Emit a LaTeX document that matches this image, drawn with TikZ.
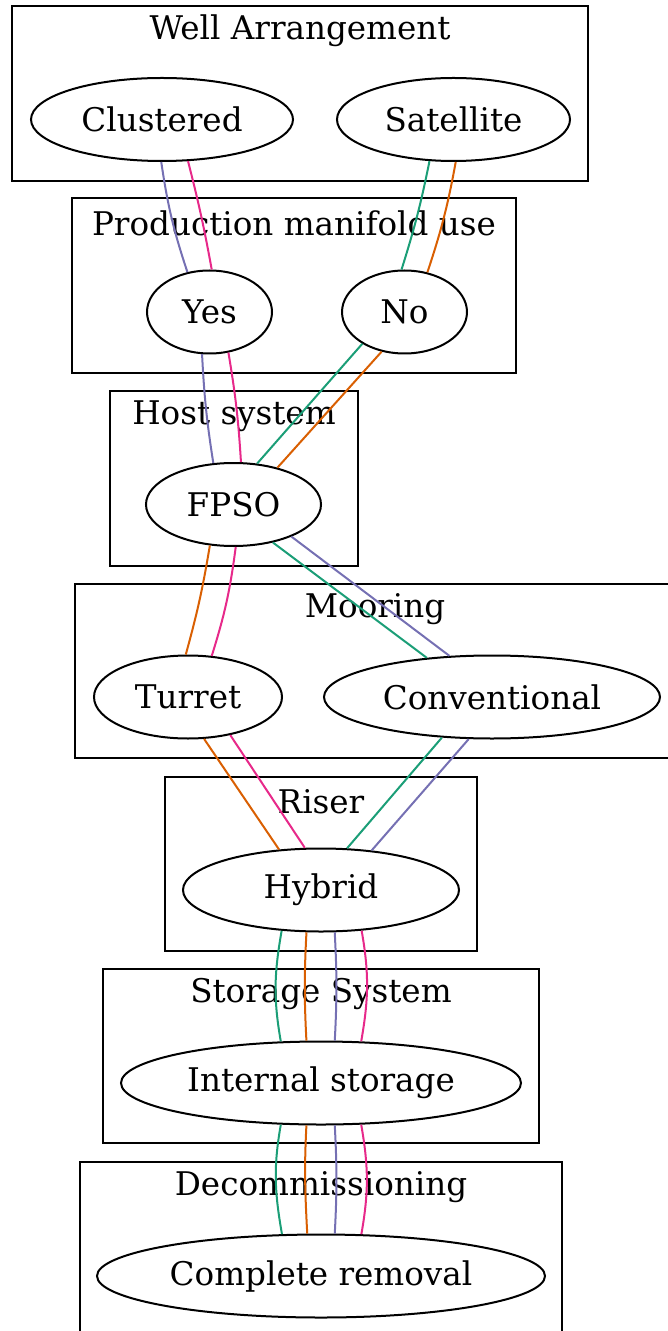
\documentclass[tikz,border=0pt]{standalone}
\usepackage{fontspec}
\setmainfont{DejaVu Serif}
\usetikzlibrary{shapes.geometric}
\definecolor{dkgreen}{HTML}{1B9E77}
\definecolor{dkorange}{HTML}{D95F02}
\definecolor{dkpurple}{HTML}{7570B3}
\definecolor{dkpink}{HTML}{E7298A}
\tikzset{
  opt/.style={ellipse, draw, fill=white, inner sep=0pt, minimum height=41.5pt, line width=1pt},
  clus/.style={draw, line width=1pt},
  ttl/.style={inner sep=0pt},
  gr/.style={dkgreen, line width=1pt},
  og/.style={dkorange, line width=1pt},
  pu/.style={dkpurple, line width=1pt},
  pk/.style={dkpink, line width=1pt}
}
\begin{document}
\begin{tikzpicture}[x=0.5pt, y=-0.5pt, font=\fontsize{16.3}{19}\selectfont]
\useasboundingbox (0,0) rectangle (668,1331);
\clip (0,0) rectangle (668,1331);
% clusters
\draw[clus] (12,6) rectangle (588,181);
\draw[clus] (72,198) rectangle (516,373);
\draw[clus] (110,391) rectangle (358,566);
\draw[clus] (75,584) rectangle (676,758);
\draw[clus] (165,777) rectangle (477,951);
\draw[clus] (103,969) rectangle (539,1143);
\draw[clus] (80,1162) rectangle (562,1345);
\node[ttl] (twell) at (300,31) {Well Arrangement};
\node[ttl] (tmani) at (294,223) {Production manifold use};
\node[ttl] (thost) at (234,416) {Host system};
\node[ttl] (tmoor) at (375,609) {Mooring};
\node[ttl] (trise) at (321,802) {Riser};
\node[ttl] (tstor) at (321,994) {Storage System};
\node[ttl] (tdeco) at (321,1187) {Decommissioning};
% options
\node[opt, minimum width=131pt] (clustered) at (162,119.5) {Clustered};
\node[opt, minimum width=116.5pt] (satellite) at (453.5,119.5) {Satellite};
\node[opt, minimum width=62.5pt] (yes) at (209.5,312) {Yes};
\node[opt, minimum width=62.5pt] (no) at (404.5,312) {No};
\node[opt, minimum width=87.5pt] (fpso) at (233.5,504.5) {FPSO};
\node[opt, minimum width=94pt] (turret) at (188,697) {Turret};
\node[opt, minimum width=168pt] (conv) at (492,697) {Conventional};
\node[opt, minimum width=138pt] (hybrid) at (321,890) {Hybrid};
\node[opt, minimum width=200pt] (internal) at (321,1083) {Internal storage};
\node[opt, minimum width=224pt] (removal) at (321,1276) {Complete removal};
% paths
\draw[pu] (clustered.-91) to[bend right=5] (yes.119);
\draw[pk] (clustered.-58) to[bend left=2] (yes.87);
\draw[gr] (satellite.-120) to[bend left=3] (no.94);
\draw[og] (satellite.-87) to[bend left=4] (no.60);
\draw[pu] (yes.-100) to[bend right=3] (fpso.116);
\draw[pk] (yes.-65) to[bend left=3] (fpso.80);
\draw[gr] (no.-143) -- (fpso.60);
\draw[og] (no.-120) -- (fpso.40);
\draw[og] (fpso.-120) to[bend left=3] (turret.93);
\draw[pk] (fpso.-87) to[bend left=5] (turret.60);
\draw[gr] (fpso.-44) -- (conv.149.5);
\draw[pu] (fpso.-29) -- (conv.136);
\draw[og] (turret.-69) -- (hybrid.136);
\draw[pk] (turret.-42) -- (hybrid.111);
\draw[gr] (conv.-141) -- (hybrid.58.5);
\draw[pu] (conv.-119) -- (hybrid.38);
\draw[gr] (hybrid.-134) to[out=-100, in=100] (internal.134);
\draw[og] (hybrid.-109) to[out=-93, in=93] (internal.109);
\draw[pu] (hybrid.-72.5) to[out=-87, in=87] (internal.72.6);
\draw[pk] (hybrid.-45.6) to[out=-80, in=80] (internal.46.2);
\draw[gr] (internal.-134) to[out=-100, in=100] (removal.133.6);
\draw[og] (internal.-109) to[out=-93, in=93] (removal.108.7);
\draw[pu] (internal.-72.6) to[out=-87, in=87] (removal.72.6);
\draw[pk] (internal.-46.2) to[out=-80, in=80] (removal.46.4);
\end{tikzpicture}
\end{document}
